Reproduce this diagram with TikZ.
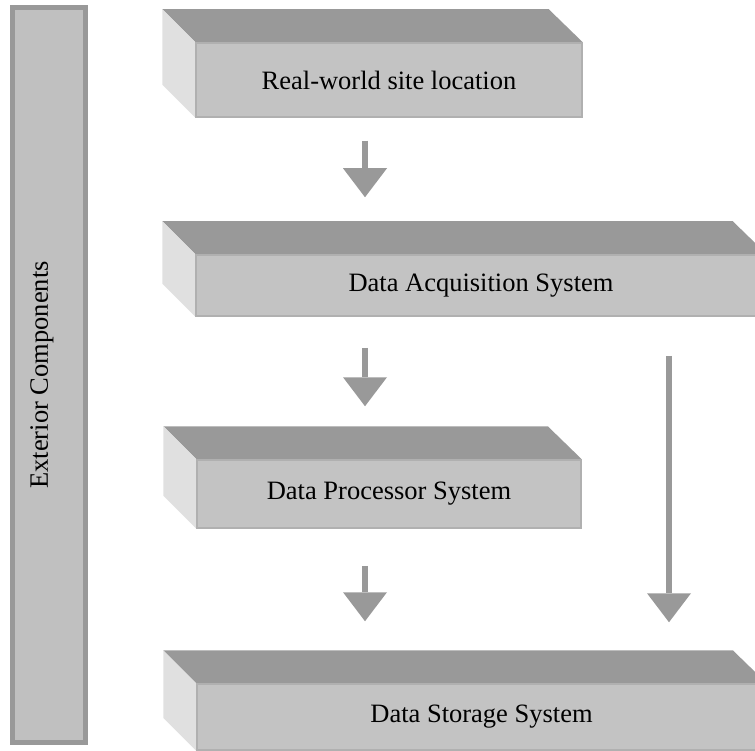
\documentclass[tikz,border=0pt]{standalone}
\usepackage{fontspec}
\setmainfont{Liberation Serif}
\usetikzlibrary{arrows.meta,calc,backgrounds}
\definecolor{topgray}{HTML}{999999}
\definecolor{frontgray}{HTML}{C3C3C3}
\definecolor{sidegray}{HTML}{E0E0E0}
\definecolor{edgegray}{HTML}{B0B0B0}
\definecolor{bargray}{HTML}{C0C0C0}
\begin{document}
\begin{tikzpicture}[x=1pt,y=-1pt,
  frontface/.style={fill=frontgray, draw=edgegray, line width=1.5pt, inner sep=0pt,
    font=\fontsize{26.5}{30}\selectfont},
  topface/.style={fill=topgray},
  sideface/.style={fill=sidegray},
  blockarrow/.style={draw=topgray, line width=6pt,
    -{Triangle[width=44pt,length=29pt,line width=0pt,fill=topgray,color=topgray]}}]
\useasboundingbox (0,0) rectangle (755,751);

% exterior bar
\node[draw=topgray, fill=bargray, line width=5pt, minimum width=73pt, minimum height=735pt,
      inner sep=0pt] (ext) at (49,375) {};
\node[rotate=90, inner sep=0pt, font=\fontsize{26.5}{30}\selectfont] (extlabel) at (42,375) {Exterior Components};

% front faces
\node[frontface, minimum width=386pt, minimum height=74pt] (r1) at (389,80) {Real-world site location};
\node[frontface, minimum width=570pt, minimum height=61pt] (r2) at (481,285.5) {Data Acquisition System};
\node[frontface, minimum width=384pt, minimum height=68pt] (r3) at (389,494) {Data Processor System};
\node[frontface, minimum width=569pt, minimum height=66pt] (r4) at (481.5,717) {Data Storage System};

% top and side faces
\begin{scope}[on background layer]
\foreach \n in {r1,r2,r3,r4}{
  \fill[topface] (\n.north west) -- (\n.north east) -- ($(\n.north east)+(-34,-33)$)
     -- ($(\n.north west)+(-33,-33)$) -- cycle;
  \fill[sideface] (\n.north west) -- ($(\n.north west)+(-33,-33)$)
     -- ($(\n.south west)+(-33,-33)$) -- (\n.south west) -- cycle;
}
\end{scope}

% arrows
\coordinate (ax) at (365,0);
\coordinate (bx) at (669,0);
\draw[blockarrow, shorten <=23pt, shorten >=57pt] (r1.south -| ax) -- (r2.north -| ax);
\draw[blockarrow, shorten <=31pt, shorten >=53pt] (r2.south -| ax) -- (r3.north -| ax);
\draw[blockarrow, shorten <=37pt, shorten >=62pt] (r3.south -| ax) -- (r4.north -| ax);
\draw[blockarrow, shorten <=39pt, shorten >=61pt] (r2.south -| bx) -- (r4.north -| bx);
\end{tikzpicture}
\end{document}
